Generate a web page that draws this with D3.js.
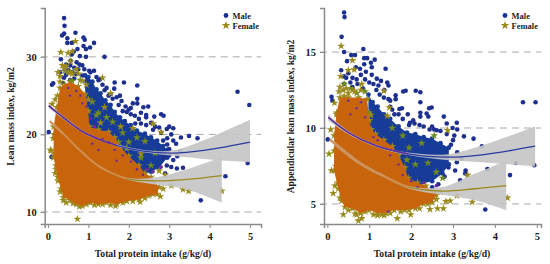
<!DOCTYPE html>
<html><head><meta charset="utf-8">
<script src="https://cdn.jsdelivr.net/npm/d3@7"></script>
<style>html,body{margin:0;padding:0;background:#fff}svg{display:block}text{font-family:"Liberation Serif",serif;font-weight:bold;fill:#222}</style>
</head><body><svg id="c" width="550" height="264"></svg>
<script>
const xTicks=[0,1,2,3,4,5];
const leftYTicks=[10,20,30], rightYTicks=[5,10,15];
const seriesNames=["Male","Female"];
const xTitle="Total protein intake (g/kg/d)";
const leftYTitle="Lean mass index, kg/m2", rightYTitle="Appendicular lean mass index, kg/m2";

// Left panel
const leftMale=[[.4,35],[.41,34],[.35,32.75],[.4,33],[.68,33.1],[.48,32.4],[.48,31.8],[.59,31.8],[.88,32.5],[.91,32.2],[1.14,31.8],[.88,31.4],[.94,31],[1.04,31.2],[.73,31],[.64,30.7],[.59,30.3],[.32,29.7],[.94,30],[1.4,30],[.79,30.1],[.71,29.3],[.56,29.5],[.78,29],[1.02,28.2],[1.14,28.2],[.13,26.6],[.1,26.4],[1.65,26.7],[1.88,26.7],[2.21,26.3],[1.64,25.9],[1.29,27.1],[4.69,25.5],[4.98,23.8],[2.21,24.6],[2.21,24],[2.1,24],[2.36,23.5],[2.48,23.6],[1.92,23.6],[1.82,24.3],[2,23.2],[2.43,22.5],[2.43,22.2],[2.63,22.3],[2.8,22.6],[2.86,22.4],[2.25,22],[2.43,21.2],[2.16,21.4],[3,21],[3.1,20.8],[2.94,20.7],[3.29,19.6],[3.49,19.8],[3.7,19.5],[3.17,18.8],[3.05,20],[3.34,15.7],[3.19,15.6],[2.9,15],[3.78,11.5],[4.39,14.6],[4.94,16.3],[.09,17.1],[.02,20.3],[3.1,16.7],[3.27,17.8],[2.94,16],[.5,28.3],[.6,28],[.7,27.8],[.45,27.7],[.85,27.6],[.55,27],[.4,27.3],[.95,26.9],[1.4,25.7],[1.55,25.2],[1.75,23.8],[1.7,24.8],[2.05,22.6],[2.3,21.4],[2.6,20.6],[2.75,20.9],[2.85,19.2],[3,18.1],[.45,29],[.55,28.9],[.65,28.6],[.75,28.4],[.85,28.9],[.9,28.4],[.65,27.2],[.3,28],[.38,26.6],[1.05,28],[1.2,27.4],[1.25,27],[1.35,26.4],[1.45,26],[1.5,25],[1.6,24.6],[1.78,25],[1.85,23],[1.95,22.9],[2.05,23.4],[2.15,22.4],[2.3,22.8],[2.55,21.5],[2.65,21],[2.8,20.2],[2.95,19.5],[3.1,19.2],[2.95,18.7],[3.2,17.2],[3.05,15.8],[2.85,17],[3,17.3]];
const leftFemale=[[.68,32],[.32,30.6],[.5,30.5],[.6,30.7],[.56,29.4],[.36,28.9],[.45,28.8],[.25,28],[1.35,27.3],[.95,26.4],[1.55,25.3],[.24,25],[.18,24.5],[.1,23.9],[.15,20],[.08,17.9],[.18,15],[.06,18],[.2,16],[1.4,23.5],[1.8,21],[2.1,20.8],[2.6,21.4],[2.8,20.3],[2.9,14.8],[3.05,13.4],[3.34,12.9],[3.48,12.7],[4.3,12.7],[.73,9.1],[.38,11.5],[1.67,10.8],[2.28,11.3],[2.78,12],[2.5,13.3],[1.95,18.2],[2.3,17.5],[2.75,15.3],[.7,28.4],[.55,28],[1,24.5],[1.3,21.5],[.45,11.2],[.62,11.1],[.78,10.7],[.95,11],[1.15,10.9],[1.35,11],[1.55,10.9],[1.85,11.2],[2.1,11.4],[2.4,11.8],[2.6,12.3],[2.85,13],[.3,12.6],[.25,14],[.2,15.5],[.15,17.5],[.13,19.5],[.3,27.5],[.4,28.5],[.5,28],[.6,27.8],[.75,27.8],[.85,26.9],[.3,26.8]];
const leftMaleTop=[[.92,27.6],[1,27.4],[1.1,26.8],[1.2,25.8],[1.3,25.3],[1.42,24.4],[1.55,23.8],[1.65,22.9],[1.78,22.2],[1.9,21.7],[2.05,21.2],[2.2,20.5],[2.4,20.1],[2.55,19.6],[2.7,19.2],[2.85,18.5],[2.95,18]];
const leftMaleBottom=[[.92,14],[2,14],[2.3,14.6],[2.55,15.2],[2.75,15.7],[2.95,17]];
const leftFemaleTop=[[.14,21],[.22,23.5],[.3,26],[.4,26.4],[.55,26.8],[.75,26.2],[.92,25.2],[1,23],[1.02,21],[1.25,20.6],[1.5,20.3],[1.65,19.6],[1.8,18.3],[2,17.2],[2.25,16],[2.4,15],[2.55,14.5]];
const leftFemaleBottom=[[.14,17],[.24,14.5],[.32,13],[.38,11.9],[.55,11.5],[.7,11],[.85,10.8],[1.05,11.2],[1.25,11],[1.45,11.2],[1.7,11],[1.95,11.4],[2.25,11.6],[2.5,12.1],[2.7,12.3],[2.75,13.2]];
const leftOverlap=[[.5,26],[.7,25.6],[.85,24],[.95,23.6],[.55,25],[.8,25],[1.05,22],[1.15,21],[1.1,18.8],[1.25,18],[1.35,19.4],[1.5,19],[1.65,18],[1.7,16.6],[1.85,17.3],[2.05,16.5],[2.2,15.5],[2.35,14.8],[2.45,15.5],[2.6,15.2],[2.8,15.8]];
const leftOlive=[[1.25,22.8],[1.45,22.2],[1.6,21.6],[1.85,20.2],[2,19],[1.75,19],[2.2,19.6],[2.4,19.1],[2.3,17],[2.65,17.6],[2.55,16],[.42,28.2],[.6,26.9],[.8,27],[1.1,24.2],[1.2,22.5]];
const leftMaleFit=[[.02,23.7],[.4,22.1],[.88,20.3],[1.3,19.3],[1.7,18.6],[2.36,17.85],[3.1,17.6],[3.93,18],[4.4,18.4],[5,19]];
const leftMaleCIHi=[[.02,24],[.4,22.3],[.88,20.45],[1.3,19.42],[1.7,18.72],[2.36,18],[3.1,17.95],[3.93,19.4],[4.4,20.5],[5,21.9]];
const leftMaleCILo=[[.02,23.4],[.4,21.9],[.88,20.15],[1.3,19.18],[1.7,18.48],[2.36,17.7],[3.1,17.25],[3.93,16.8],[4.4,16.6],[5,16.4]];
const leftFemaleFit=[[.05,21.7],[.38,20.1],[.8,17.9],[1.29,15.8],[1.95,14.3],[2.7,14],[3.43,14.2],[4.3,14.7]];
const leftFemaleCIHi=[[.05,21.95],[.38,20.25],[.8,18.05],[1.29,15.92],[1.95,14.42],[2.7,14.5],[3.43,15.5],[4.3,17.1]];
const leftFemaleCILo=[[.05,21.45],[.38,19.95],[.8,17.75],[1.29,15.68],[1.95,14.18],[2.7,13.5],[3.43,12.9],[4.3,11.2]];

// Right panel
const rightMale=[[.4,17.6],[.41,17.3],[.34,16],[.86,15.2],[.4,15],[.66,14.8],[.57,14.8],[.47,14.4],[.88,14.6],[.95,14.6],[1.13,14.5],[1.04,14.3],[.88,14.2],[1.06,14],[1.39,13.9],[.33,13.8],[.68,14],[.78,13.9],[.92,13.7],[1.06,13.5],[1.18,13.25],[1.28,13.1],[1.43,13],[1.46,12.8],[1.22,12.8],[1.17,12.5],[1.36,12.5],[.1,12.05],[.12,11.8],[1.81,12.4],[1.87,12.45],[2.11,12.45],[2.22,12.35],[1.63,12.15],[1.63,11.9],[1.46,11.9],[2.22,11.7],[4.67,11.7],[4.97,11.7],[1.78,11.3],[1.72,11.25],[2.43,11.3],[2.49,11.35],[2.22,11],[2.22,10.75],[2.37,10.95],[2.41,10.75],[1.92,10.9],[2.78,10.75],[2.85,10.3],[3.09,10.35],[1.97,10.35],[2.08,10.3],[2.44,9.9],[2.61,9.85],[2.99,10],[3.1,9.9],[3.26,9.45],[3.49,9.3],[3.69,8.8],[3.03,9.5],[3.82,7.3],[4.36,6.9],[4.5,7.7],[4.94,7.55],[3.77,4.63],[.01,9.25],[3.3,7.2],[3.29,7],[3.17,6.55],[3.09,7.75],[2.89,7.4],[2.65,6.3],[.45,13.3],[.55,13],[.7,13.2],[.8,13.5],[.6,12.7],[.4,12.9],[.85,12.6],[1.5,11.4],[1.6,10.9],[.4,13.4],[.5,13.6],[.6,13.3],[.72,12.9],[.9,13.2],[1,13],[1.1,12.9],[1.25,12.2],[1.35,12],[1.5,11.8],[1.55,11.2],[1.7,10.9],[1.8,10.6],[1.95,10.2],[2.05,10.5],[2.2,10.2],[2.3,10.1],[2.5,10.1],[2.55,9.9],[2.7,9.8],[2.85,9.6],[3,9.2],[2.95,8.9],[3.1,8.4],[3.05,7.2],[2.8,6.8],[2.5,6.1],[3.2,8]];
const rightFemale=[[.33,15.4],[.6,14.45],[.64,13.85],[.32,13.4],[.5,13.8],[.82,12.9],[1.35,12.45],[1.48,11.35],[1.43,10.8],[.17,11.65],[.22,10.9],[.08,9.9],[2.87,9.85],[1.04,10.85],[.04,8.3],[.1,7.2],[.14,5.7],[.18,6.2],[.38,4.3],[.66,4.35],[.74,3.9],[.82,4.05],[1.67,4.05],[1.99,4.3],[2.45,4.65],[2.63,4.7],[2.77,4.7],[2.83,5.17],[2.93,5.2],[3.46,5.13],[4.3,5.4],[3.35,6.9],[3.09,5.55],[1.2,4.25],[1.36,4.25],[.3,12.7],[.45,12.6],[.6,12.5],[.4,12.1],[.5,4.6],[.7,4.3],[.9,4.5],[1.1,4.3],[1.3,4.3],[1.5,4.4],[1.75,4.5],[1.95,4.6],[2.2,4.7],[2.4,5],[2.6,5.3],[2.7,5.8],[.3,5.4],[.25,6.4],[.2,7.5],[.16,8.5],[.28,12.4],[.38,12.5],[.5,12.3],[.65,12.4],[.8,12.5]];
const rightMaleTop=[[.98,12.2],[1.08,11.7],[1.2,11.4],[1.35,10.9],[1.5,10.6],[1.7,10.1],[1.9,9.7],[2.1,9.6],[2.3,9.4],[2.5,9.3],[2.7,9],[2.9,8.7]];
const rightMaleBottom=[[.98,8],[1.9,6.4],[2.2,6.3],[2.5,6.5],[2.75,7],[2.9,7.6]];
const rightFemaleTop=[[.16,9.5],[.22,11],[.3,12],[.5,12],[.75,12],[.95,11.9],[1,10.5],[1.05,9.9],[1.15,9.6],[1.35,9.2],[1.55,8.8],[1.7,8.2],[1.85,7.4],[1.93,6.7],[2.15,6.4],[2.35,6.2],[2.55,5.7]];
const rightFemaleBottom=[[.16,7.2],[.26,6],[.34,5.2],[.42,4.8],[.6,4.7],[.8,4.4],[1,4.6],[1.2,4.4],[1.4,4.4],[1.6,4.6],[1.85,4.6],[2.1,4.7],[2.3,5],[2.5,5.1],[2.6,5.6]];
const rightOverlap=[[.5,11.8],[.7,11.3],[.9,10.7],[.55,10.9],[.8,11.7],[1.1,9.4],[1.3,8.7],[1.2,9.2],[1.5,8.2],[1.7,7.6],[1.8,6.9],[2,6.5],[2.15,6.1],[2.3,6.4],[2.6,6.2],[1.45,4.5]];
const rightOlive=[[1.55,10],[1.8,9.5],[1.95,8.7],[1.9,7.9],[2.25,9],[2.55,9.5],[2.1,7.6],[2.4,7.7],[2.6,7.1],[2.75,6.7],[.4,12.9],[.55,12.6],[.7,12.3],[.9,12.4],[1,11]];
const rightMaleFit=[[.02,10.7],[.5,9.7],[1.14,8.85],[1.93,8.3],[2.89,8.08],[3.69,8.23],[4.96,8.8]];
const rightMaleCIHi=[[.02,10.9],[.5,9.8],[1.14,8.93],[1.93,8.38],[2.89,8.28],[3.69,8.85],[4.96,10.1]];
const rightMaleCILo=[[.02,10.5],[.5,9.6],[1.14,8.77],[1.93,8.22],[2.89,7.88],[3.69,7.75],[4.96,7.47]];
const rightFemaleFit=[[.06,9.25],[.74,7.75],[1.3,6.9],[1.93,6.1],[2.73,5.85],[3.53,6],[4.27,6.2]];
const rightFemaleCIHi=[[.06,9.37],[.74,7.85],[1.3,6.98],[1.93,6.18],[2.73,6.1],[3.53,7],[4.27,7.85]];
const rightFemaleCILo=[[.06,9.13],[.74,7.65],[1.3,6.82],[1.93,6.02],[2.73,5.6],[3.53,5.25],[4.27,4.6]];

const BLUE="#1d2f8f",BLOB="#173c98",PURPLE="#6a2a98",ORANGE="#c8650c",OLIVE="#9a8a1c",GREEN="#6f8a20",GREY="#c4c4c4",AXIS="#8a8a8a";
const svg=d3.select("#c");
const star=d3.symbol().type(d3.symbolStar);

function panel(o){
  const x=d3.scaleLinear().domain(o.xDomain).range(o.xRange);
  const y=d3.scaleLinear().domain(o.yDomain).range([224,8]);
  const g=svg.append("g");
  g.selectAll(".g").data(o.yTicks).join("line")
    .attr("x1",o.xRange[0]-4).attr("x2",o.xRange[1]).attr("y1",d=>y(d)).attr("y2",d=>y(d))
    .attr("stroke","#aaa").attr("stroke-width",1).attr("stroke-dasharray","7 5");
  const dots=(data,c,r)=>g.append("g").selectAll("circle").data(data).join("circle")
    .attr("cx",d=>x(d[0])).attr("cy",d=>y(d[1])).attr("r",r).attr("fill",c);
  const stars=(data,c,s)=>g.append("g").selectAll("path").data(data).join("path")
    .attr("d",star.size(s)()).attr("transform",d=>`translate(${x(d[0])},${y(d[1])})`).attr("fill",c);
  const band=(hi,lo,c)=>{
    g.append("path").attr("d",d3.line().x(d=>x(d[0])).y(d=>y(d[1]))(hi.concat(lo.slice().reverse()))+"Z").attr("fill",c);
  };
  const ci=(hi,lo)=>{
    g.append("path").datum(hi.map((d,i)=>[d[0],d[1],lo[i][1]]))
      .attr("d",d3.area().curve(d3.curveCatmullRom).x(d=>x(d[0])).y0(d=>y(d[2])).y1(d=>y(d[1])))
      .attr("fill",GREY).attr("fill-opacity",.9);
  };
  const line=(data,c)=>g.append("path").attr("d",d3.line().curve(d3.curveCatmullRom).x(d=>x(d[0])).y(d=>y(d[1]))(data))
    .attr("fill","none").attr("stroke",c).attr("stroke-width",1.3);

  band(o.maleTop,o.maleBottom,BLOB);
  dots(o.maleTop,BLOB,2.4);
  dots(o.maleBottom,BLOB,2.4);
  dots(o.male,BLUE,2.3);
  dots(o.overlap,PURPLE,1.8);
  stars(o.femaleTop,OLIVE,20);
  stars(o.femaleBottom,OLIVE,20);
  stars(o.olive,GREEN,20);
  stars(o.female,OLIVE,20);
  band(o.femaleTop,o.femaleBottom,ORANGE);
  dots(o.overlap,PURPLE,1.2);
  ci(o.mHi,o.mLo);
  ci(o.fHi,o.fLo);
  line(o.mFit,"#2b3aa0");
  line(o.mFit.filter(d=>d[0]<=1.95),PURPLE);
  line(o.fFit,OLIVE);
  line(o.fFit.filter(d=>d[0]<=2),"#e08a50");

  const ax=g.append("g").attr("transform","translate(0,224)").call(d3.axisBottom(x).tickValues(xTicks).tickSize(4).tickFormat(d3.format("d")));
  const ay=g.append("g").attr("transform",`translate(${o.xRange[0]},0)`).call(d3.axisLeft(y).tickValues(o.yTicks).tickSize(4).tickFormat(d3.format("d")));
  [ax,ay].forEach(a=>{
    a.selectAll(".domain").attr("stroke",AXIS).attr("stroke-width",1.5);
    a.selectAll(".tick line").attr("stroke",AXIS);
    a.selectAll("text").attr("font-size",10.5).style("font-family",'"Liberation Serif",serif').style("font-weight","bold").attr("fill","#222");
  });
  ax.selectAll("text").attr("dy",".9em");
  ay.selectAll("text").attr("dx","-1px");
  g.append("text").attr("x",o.xTitleX).attr("y",257).attr("text-anchor","middle").attr("font-size",9.7).text(xTitle);
  g.append("text").attr("transform",`translate(${o.yTitleX},${o.yTitleY}) rotate(-90)`).attr("text-anchor","middle").attr("font-size",9.6).text(o.yTitle);
  g.append("circle").attr("cx",o.legX).attr("cy",15.5).attr("r",2.4).attr("fill",BLUE);
  g.append("path").attr("d",star.size(24)()).attr("transform",`translate(${o.legX},25.5)`).attr("fill",OLIVE);
  seriesNames.forEach((n,i)=>g.append("text").attr("x",o.legX+6.5).attr("y",18.5+i*10).attr("font-size",8.5).text(n));
}
panel({xDomain:[-.08,5.27],xRange:[44.7,261],yDomain:[8.45,36.3],yTicks:leftYTicks,yTitle:leftYTitle,xTitleX:153,yTitleX:13.5,yTitleY:116.5,legX:226,
  male:leftMale,female:leftFemale,maleTop:leftMaleTop,maleBottom:leftMaleBottom,femaleTop:leftFemaleTop,femaleBottom:leftFemaleBottom,overlap:leftOverlap,olive:leftOlive,
  mFit:leftMaleFit,mHi:leftMaleCIHi,mLo:leftMaleCILo,fFit:leftFemaleFit,fHi:leftFemaleCIHi,fLo:leftFemaleCILo});
panel({xDomain:[-.08,5.1],xRange:[324,541],yDomain:[3.68,17.9],yTicks:rightYTicks,yTitle:rightYTitle,xTitleX:432,yTitleX:293.5,yTitleY:116.5,legX:505,
  male:rightMale,female:rightFemale,maleTop:rightMaleTop,maleBottom:rightMaleBottom,femaleTop:rightFemaleTop,femaleBottom:rightFemaleBottom,overlap:rightOverlap,olive:rightOlive,
  mFit:rightMaleFit,mHi:rightMaleCIHi,mLo:rightMaleCILo,fFit:rightFemaleFit,fHi:rightFemaleCIHi,fLo:rightFemaleCILo});
</script></body></html>
